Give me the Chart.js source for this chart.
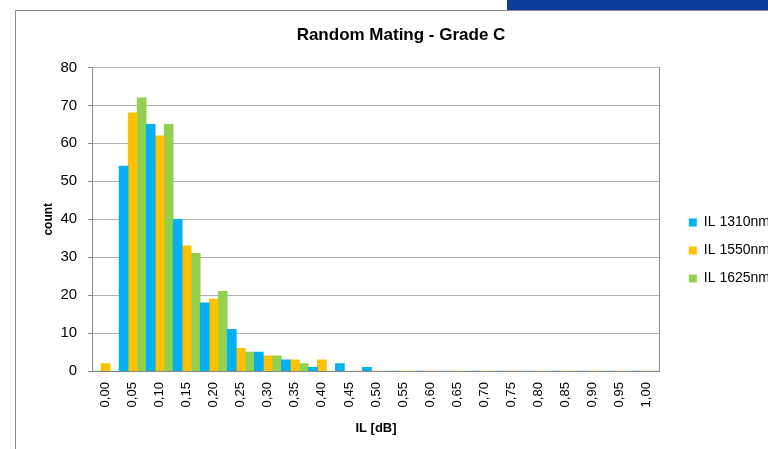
<!DOCTYPE html>
<html>
<head>
<meta charset="utf-8">
<script src="https://cdn.jsdelivr.net/npm/chart.js@4.4.1/dist/chart.umd.min.js"></script>
<style>
  html, body { margin: 0; padding: 0; background: #fff; overflow: hidden; width: 768px; height: 449px; }
  .banner { position: absolute; left: 507px; top: 0; width: 261px; height: 10px; background: #0c3b9c; }
  .frame { position: absolute; left: 15px; top: 10px; width: 800px; height: 460px; border-left: 1px solid #8c8c8c; border-top: 1px solid #8c8c8c; }
  .box { position: absolute; left: 0; top: 0; width: 790px; height: 450px; }
</style>
</head>
<body>
<div class="banner"></div>
<div class="frame"><div class="box"><canvas id="chart-il"></canvas></div></div>
<script>
// clases del histograma (IL en dB)
const categorias = ['0,00', '0,05', '0,10', '0,15', '0,20', '0,25', '0,30', '0,35', '0,40', '0,45', '0,50',
                    '0,55', '0,60', '0,65', '0,70', '0,75', '0,80', '0,85', '0,90', '0,95', '1,00'];
const il1310 = [0, 54, 65, 40, 18, 11, 5, 3, 1, 2, 1, 0, 0, 0, 0, 0, 0, 0, 0, 0, 0];
const il1550 = [2, 68, 62, 33, 19, 6, 4, 3, 3, 0, 0, 0, 0, 0, 0, 0, 0, 0, 0, 0, 0];
const il1625 = [0, 72, 65, 31, 21, 5, 4, 2, 0, 0, 0, 0, 0, 0, 0, 0, 0, 0, 0, 0, 0];
const yMax = 80;
const yStep = 10;

document.addEventListener('DOMContentLoaded', () => {
  if (typeof window.Chart === 'undefined') {
    console.warn('Chart.js no cargó');
    return;
  }

  Chart.defaults.font.family = "'Liberation Sans', Arial, sans-serif";
  Chart.defaults.color = '#000';

  // Excel pone la leyenda un poco más a la derecha y más abajo que Chart.js
  const moverLeyenda = {
    id: 'moverLeyenda',
    afterLayout(chart) {
      const lg = chart.legend;
      if (!lg) return;
      const dx = 15, dy = 25;
      lg.left += dx; lg.right += dx;
      lg.top += dy; lg.bottom += dy;
    }
  };

  const ctx = document.getElementById('chart-il').getContext('2d');
  new Chart(ctx, {
    type: 'bar',
    data: {
      labels: categorias,
      datasets: [
        { label: 'IL 1310nm', data: il1310, backgroundColor: '#00b0f0' },
        { label: 'IL 1550nm', data: il1550, backgroundColor: '#ffc000' },
        { label: 'IL 1625nm', data: il1625, backgroundColor: '#92d050' }
      ]
    },
    options: {
      responsive: true,
      maintainAspectRatio: false,
      animation: false,
      datasets: { bar: { categoryPercentage: 1, barPercentage: 1 } },
      layout: { padding: { left: 21, right: 41, bottom: 21 } },
      plugins: {
        title: {
          display: true,
          text: 'Random Mating - Grade C',
          font: { size: 17, weight: 'bold' },
          padding: { top: 14, bottom: 22 }
        },
        legend: {
          position: 'right',
          labels: { boxWidth: 8, boxHeight: 8, padding: 14, font: { size: 14 } }
        },
        tooltip: { enabled: false }
      },
      scales: {
        x: {
          grid: { display: false, drawTicks: false },
          border: { color: '#888' },
          ticks: { minRotation: 90, maxRotation: 90, padding: 11, font: { size: 13 } },
          title: { display: true, text: 'IL [dB]', font: { size: 13, weight: 'bold' }, padding: { top: 2, bottom: 4 } }
        },
        y: {
          min: 0,
          max: yMax,
          ticks: { stepSize: yStep, padding: 11, font: { size: 15 } },
          grid: { color: '#b0b0b0', tickColor: '#888', tickLength: 4 },
          border: { color: '#888' },
          title: { display: true, text: 'count', font: { size: 12, weight: 'bold' }, padding: { top: 4, bottom: -6 } }
        },
        // solo para el borde derecho del área de trazado
        yDer: {
          position: 'right',
          ticks: { display: false },
          grid: { display: false, drawTicks: false },
          border: { display: true, color: '#888' }
        }
      }
    },
    plugins: [moverLeyenda]
  });
});
</script>
</body>
</html>
